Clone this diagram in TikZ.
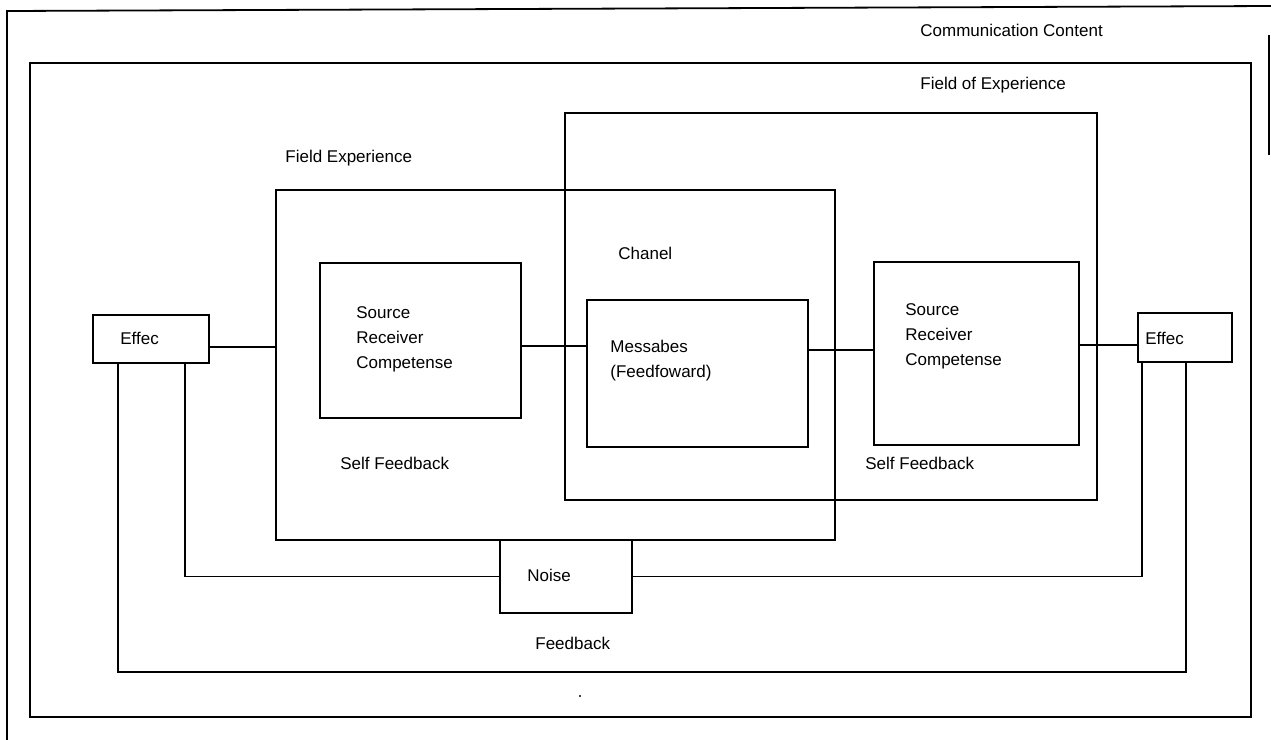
\documentclass[tikz,border=0pt]{standalone}
\usepackage{fontspec}
\setmainfont{Liberation Sans}
\usetikzlibrary{fit}
\begin{document}
\begin{tikzpicture}[x=0.5pt,y=-0.5pt,
  every node/.style={font=\fontsize{8.5}{12.5}\selectfont},
  frame/.style={line width=0.9pt},
  box/.style={draw, line width=0.9pt, inner sep=0pt},
  conn/.style={line width=0.9pt},
  lbl/.style={anchor=west, inner sep=0pt, align=left}]
\useasboundingbox (0,0) rectangle (1271,740);
% outer page frame
\coordinate (oTL) at (7,11);
\coordinate (oTR) at (1271,6);
\coordinate (oBL) at (7,740);
\coordinate (rA) at (1269,35);
\coordinate (rB) at (1269,155);
\draw[frame] (oBL) -- (oTL) -- (oTR);
\draw[frame] (rA) -- (rB);
% communication content frame
\node[box, fit={(30,63) (1251,717)}] (comm) {};
\node[lbl] (tcomm) at (920,30) {Communication Content};
% fields of experience
\node[box, fit={(565,113) (1097,500)}] (fieldR) {};
\node[lbl] (tfieldR) at (920,85) {Field of Experience};
\node[box, fit={(276,190) (835,540)}] (fieldL) {};
\node[lbl] (tfieldL) at (285,158) {Field Experience};
\node[lbl] (tchan) at (618,253) {Chanel};
% inner boxes
\node[box, fit={(320,263) (521,418)}] (srcL) {};
\node[lbl] (tsrcL) at (356,339) {Source\\Receiver\\Competense};
\node[box, fit={(587,300) (808,447)}] (msg) {};
\node[lbl] (tmsg) at (610,361) {Messabes\\(Feedfoward)};
\node[box, fit={(874,262) (1079,445)}] (srcR) {};
\node[lbl] (tsrcR) at (905,336) {Source\\Receiver\\Competense};
% effect boxes
\node[box, fit={(93,315) (209,363)}] (effL) {};
\node[lbl] (teffL) at (120,338) {Effec};
\node[box, fit={(1138,313) (1232,362)}] (effR) {};
\node[lbl] (teffR) at (1145,338) {Effec};
% self feedback labels
\node[lbl] (sfL) at (340,463) {Self Feedback};
\node[lbl] (sfR) at (865,463) {Self Feedback};
% noise
\node[box, fit={(500,540) (632,613)}] (noise) {};
\node[lbl] (tnoise) at (527,575) {Noise};
\node[lbl] (tfb) at (535,643) {Feedback};
% horizontal connectors
\coordinate (y1) at (0,347);
\coordinate (y2) at (0,346);
\coordinate (y3) at (0,350);
\coordinate (y4) at (0,345);
\draw[conn] (effL.east |- y1) -- (fieldL.west |- y1);
\draw[conn] (srcL.east |- y2) -- (msg.west |- y2);
\draw[conn] (msg.east |- y3) -- (srcR.west |- y3);
\draw[conn] (srcR.east |- y4) -- (effR.west |- y4);
% noise loop
\coordinate (nL) at (185,0);
\coordinate (nR) at (1142,0);
\draw[conn] (effL.south -| nL) |- (noise.west);
\draw[conn] (noise.east) -| (effR.south -| nR);
% feedback loop
\coordinate (fbL) at (118,672);
\coordinate (fbR) at (1186,672);
\draw[conn] (effL.south -| fbL) -- (fbL) -- (fbR) -- (effR.south -| fbR);
% stray dot
\fill (580,696) circle[radius=1.2];
\end{tikzpicture}
\end{document}
